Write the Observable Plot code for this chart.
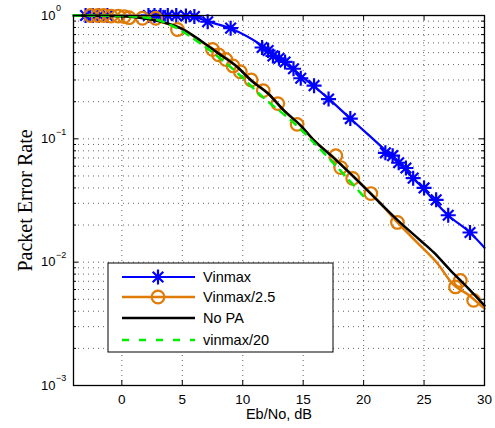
<!DOCTYPE html>
<html><head><meta charset="utf-8">
<script src="https://cdn.jsdelivr.net/npm/d3@7"></script>
<script src="https://cdn.jsdelivr.net/npm/@observablehq/plot@0.6"></script>
<style>body{margin:0;background:#fff} #chart{width:495px;height:428px}</style>
</head><body><div id="chart"></div>
<script>
// ---- tick data ----
const xTicks = [0, 5, 10, 15, 20, 25, 30];
const xGrid = [0, 5, 10, 15, 20, 25];
const yMajor = [1, 0.1, 0.01, 0.001];
const yExponents = ["0", "\u22121", "\u22122", "\u22123"];
const yMinor = [0.002,0.003,0.004,0.005,0.006,0.007,0.008,0.009,
                0.02,0.03,0.04,0.05,0.06,0.07,0.08,0.09,
                0.2,0.3,0.4,0.5,0.6,0.7,0.8,0.9];

// ---- series: Vinmax (markers = simulated points, line = fit) ----
const vinmaxPtsX = [-3.0,-2.4,-1.9,-1.2,2.2,2.7,3.2,3.8,4.5,5.3,6.0,7.1,9.0,11.6,12.1,12.5,13.0,13.5,14.2,14.8,15.9,17.1,18.9,21.8,22.4,22.9,23.5,24.1,25.0,26.0,27.0,28.8];
const vinmaxPtsY = [1,1,1,1,1,1,1,1,1,0.99,0.98,0.89,0.79,0.55,0.52,0.47,0.45,0.42,0.37,0.31,0.27,0.21,0.146,0.077,0.073,0.064,0.058,0.048,0.040,0.032,0.024,0.0174];
const vinmaxFitX = [-3.4, 5.7, 7.1, 9.0, 11.6, 13.2, 14.8, 17.1, 18.9, 21.8, 24.7, 27.0, 28.8, 30];
const vinmaxFitY = [1, 0.99, 0.894, 0.785, 0.57, 0.431, 0.326, 0.212, 0.146, 0.0805, 0.0418, 0.0239, 0.0174, 0.0131];

// ---- series: Vinmax/2.5 ----
const v25PtsX = [-2.6,-2.0,-1.5,-0.9,-0.3,0.2,0.6,1.7,2.8,4.6,7.5,8.0,8.6,9.2,9.8,10.7,11.7,12.9,14.5,17.7,18.1,19.1,20.6,22.8,27.6,28.0,29.1];
const v25PtsY = [1,1,1,0.99,0.99,0.98,0.96,0.95,0.95,0.77,0.53,0.48,0.44,0.39,0.35,0.30,0.246,0.193,0.131,0.073,0.0585,0.0477,0.036,0.021,0.0063,0.0071,0.0049];
const v25FitX = [-3, 0, 2, 4, 5, 6.5, 8, 9.6, 10.7, 12.1, 13.4, 14.8, 15.9, 17.5, 19.5, 21.4, 22.8, 24.5, 26.1, 27.4, 28.6, 30];
const v25FitY = [1, 0.99, 0.96, 0.84, 0.78, 0.62, 0.50, 0.38, 0.30, 0.233, 0.170, 0.128, 0.097, 0.071, 0.046, 0.030, 0.021, 0.0142, 0.0098, 0.0066, 0.0055, 0.0042];

// ---- series: No PA ----
const noPaX = [-4, -1, 1.3, 3.2, 4.9, 6.5, 7.9, 9.6, 10.7, 12.1, 13.4, 14.8, 15.9, 17.5, 19.5, 21.4, 23.1, 24.7, 25.8, 27.2, 28.6, 30];
const noPaY = [1, 0.99, 0.963, 0.894, 0.785, 0.627, 0.50, 0.379, 0.297, 0.233, 0.170, 0.128, 0.097, 0.0705, 0.0459, 0.0299, 0.0206, 0.0150, 0.0120, 0.00855, 0.00622, 0.00445];

// ---- series: vinmax/20 ----
const v20X = [-4, 0, 2.4, 4.1, 6.5, 9.6, 11.7, 14.0, 17.3, 20.3];
const v20Y = [1, 0.99, 0.95, 0.83, 0.593, 0.339, 0.216, 0.141, 0.0667, 0.0316];

const legendLabels = ["Vinmax", "Vinmax/2.5", "No PA", "vinmax/20"];
const colors = {blue: "#0000ff", orange: "#df7b06", black: "#000000", green: "#00ee00"};

const zip = (xs, ys) => xs.map((x, i) => ({x, y: ys[i]}));

const star = {
  draw(ctx, size) {
    const r = Math.sqrt(size / Math.PI);
    const d = r * 0.7071;
    ctx.moveTo(0, -r); ctx.lineTo(0, r);
    ctx.moveTo(-r, 0); ctx.lineTo(r, 0);
    ctx.moveTo(-d, -d); ctx.lineTo(d, d);
    ctx.moveTo(-d, d); ctx.lineTo(d, -d);
  }
};

const W = 495, H = 428, mL = 73, mR = 11, mT = 15, mB = 43;
const fw = W - mL - mR, fh = H - mT - mB;

const chart = Plot.plot({
  width: W, height: H,
  marginLeft: mL, marginRight: mR, marginTop: mT, marginBottom: mB,
  style: {fontFamily: "'Liberation Sans', Arial, Helvetica, sans-serif", fontSize: "13px", background: "#fff", overflow: "visible"},
  x: {domain: [-4, 30], axis: null},
  y: {type: "log", domain: [0.001, 1], axis: null},
  marks: [
    Plot.ruleX(xGrid, {x: d => d, stroke: "#222", strokeOpacity: 0.7, strokeDasharray: "1,4"}),
    Plot.ruleY([...yMinor, 0.1, 0.01], {y: d => d, stroke: "#222", strokeOpacity: 0.7, strokeDasharray: "1,4"}),
    // Vinmax
    Plot.line(zip(vinmaxFitX, vinmaxFitY), {x: "x", y: "y", stroke: colors.blue, strokeWidth: 2.2, curve: "monotone-x"}),
    Plot.dot(zip(vinmaxPtsX, vinmaxPtsY), {x: "x", y: "y", symbol: star, r: 7.5, stroke: colors.blue, strokeWidth: 2.2, fill: "none", clip: false}),
    // Vinmax/2.5
    Plot.line(zip(v25FitX, v25FitY), {x: "x", y: "y", stroke: colors.orange, strokeWidth: 2.5, curve: "monotone-x"}),
    Plot.dot(zip(v25PtsX, v25PtsY), {x: "x", y: "y", symbol: "circle", r: 6.3, stroke: colors.orange, strokeWidth: 2.2, fill: "none", clip: false}),
    // No PA
    Plot.line(zip(noPaX, noPaY), {x: "x", y: "y", stroke: colors.black, strokeWidth: 2.5, curve: "monotone-x"}),
    // vinmax/20
    Plot.line(zip(v20X, v20Y), {x: "x", y: "y", stroke: colors.green, strokeWidth: 2.5, strokeDasharray: "7,7", curve: "monotone-x"}),
    // frame and ticks
    Plot.frame({stroke: "#000", strokeWidth: 1.3}),
    Plot.tickX(xTicks.slice(0, -1), {x: d => d, insetTop: fh - 5, stroke: "#000"}),
    Plot.tickX(xTicks.slice(0, -1), {x: d => d, insetBottom: fh - 5, stroke: "#000"}),
    Plot.tickY(yMinor, {y: d => d, insetRight: fw - 3, stroke: "#000"}),
    Plot.tickY(yMinor, {y: d => d, insetLeft: fw - 3, stroke: "#000"}),
    Plot.tickY(yMajor, {y: d => d, insetRight: fw - 5, stroke: "#000"}),
    Plot.tickY(yMajor, {y: d => d, insetLeft: fw - 5, stroke: "#000"}),
    // x tick labels
    Plot.text(xTicks, {x: d => d, frameAnchor: "bottom", dy: 14, textAnchor: "middle", lineAnchor: "middle", text: d => String(d), fontSize: 13.5, fill: "#000"}),
    // y tick labels: "10" + exponent
    Plot.text(yMajor, {y: d => d, frameAnchor: "left", dx: -18, textAnchor: "end", lineAnchor: "middle", text: () => "10", fontSize: 13, fill: "#000"}),
    Plot.text(yMajor, {y: d => d, frameAnchor: "left", dx: -17.5, dy: -7, textAnchor: "start", lineAnchor: "middle", text: (d, i) => yExponents[i], fontSize: 9, fill: "#000"}),
    // axis titles
    Plot.text(["Eb/No, dB"], {frameAnchor: "bottom", dy: 29, textAnchor: "middle", lineAnchor: "middle", text: d => d, fontSize: 14.5, fill: "#000"}),
    Plot.text(["Packet Error Rate"], {frameAnchor: "left", dx: -48, rotate: -90, textAnchor: "middle", lineAnchor: "middle", text: d => d, fontSize: 20, fontFamily: "'Liberation Serif', 'Times New Roman', serif", fill: "#000"})
  ]
});

document.getElementById("chart").appendChild(chart);

// ---- legend (drawn inside the plot area) ----
const svg = d3.select(chart);
const lg = svg.append("g").attr("font-family", "'Liberation Sans', Arial, sans-serif").attr("font-size", 14.5).attr("text-anchor", "start");
const bx = 108, by = 263, bw = 225, bh = 89;
lg.append("rect").attr("x", bx).attr("y", by).attr("width", bw).attr("height", bh).attr("fill", "#fff").attr("stroke", "#000").attr("stroke-width", 1);
const rowsY = [277, 297, 318, 340];
const styles = [
  {stroke: colors.blue, width: 2.2, dash: null, marker: "star"},
  {stroke: colors.orange, width: 2.5, dash: null, marker: "circle"},
  {stroke: colors.black, width: 2.5, dash: null, marker: null},
  {stroke: colors.green, width: 2.5, dash: "7,10", marker: null}
];
legendLabels.forEach((lab, i) => {
  const s = styles[i], y = rowsY[i];
  const ln = lg.append("line").attr("x1", 122).attr("x2", 195).attr("y1", y).attr("y2", y)
    .attr("stroke", s.stroke).attr("stroke-width", s.width);
  if (s.dash) ln.attr("stroke-dasharray", s.dash);
  if (s.marker === "star") {
    lg.append("path").attr("transform", `translate(158,${y})`)
      .attr("d", d3.symbol(star, Math.PI * 56)())
      .attr("stroke", s.stroke).attr("stroke-width", 2.2).attr("fill", "none");
  } else if (s.marker === "circle") {
    lg.append("circle").attr("cx", 158).attr("cy", y).attr("r", 6.3)
      .attr("stroke", s.stroke).attr("stroke-width", 2.2).attr("fill", "none");
  }
  lg.append("text").attr("x", 203).attr("y", y).attr("dy", "0.35em").attr("text-anchor", "start").attr("fill", "#000").text(lab);
});
</script>
</body></html>
